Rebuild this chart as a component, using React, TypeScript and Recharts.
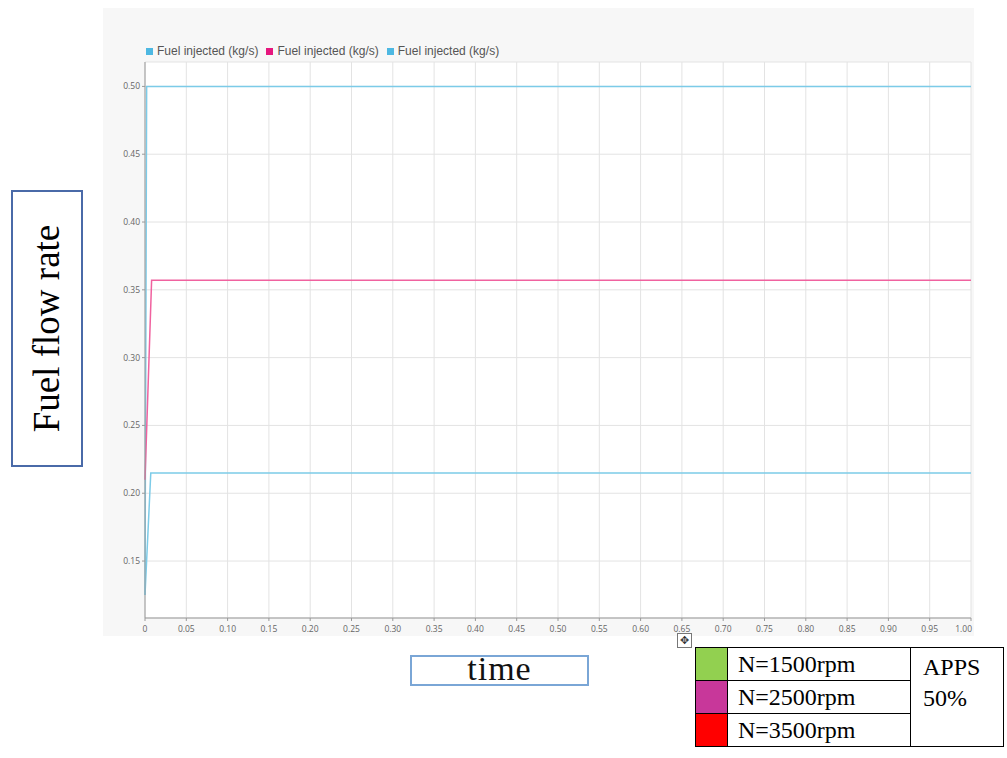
import React from "react";
import { LineChart, Line, XAxis, YAxis, CartesianGrid } from "recharts";

const xTicks = [0, 0.05, 0.1, 0.15, 0.2, 0.25, 0.3, 0.35, 0.4, 0.45, 0.5, 0.55, 0.6, 0.65, 0.7, 0.75, 0.8, 0.85, 0.9, 0.95, 1.0];
const yTicks = [0.15, 0.2, 0.25, 0.3, 0.35, 0.4, 0.45, 0.5];

// fuel injected (kg/s) vs time, one array per series
const fuelTop = [
    { t: 0, v: 0.125 },
    { t: 0.002, v: 0.5 },
    { t: 1, v: 0.5 },
];
const fuelMid = [
    { t: 0, v: 0.21 },
    { t: 0.008, v: 0.357 },
    { t: 1, v: 0.357 },
];
const fuelLow = [
    { t: 0, v: 0.125 },
    { t: 0.007, v: 0.215 },
    { t: 1, v: 0.215 },
];

const seriesNames = ["Fuel injected (kg/s)", "Fuel injected (kg/s)", "Fuel injected (kg/s)"];
const seriesColors = ["#4db8e2", "#e6177e", "#4db8e2"];
const lineColors = ["#7ccbe8", "#f0629f", "#7ccbe8"];

const speeds = ["N=1500rpm", "N=2500rpm", "N=3500rpm"];
const speedColors = ["#92d050", "#c8379a", "#ff0000"];

const fmtX = (v: number) => (v === 0 ? "0" : v.toFixed(2));
const fmtY = (v: number) => v.toFixed(2);

const tickStyle = { fontSize: 8.5, fill: "#666", fontFamily: "Open Sans, sans-serif" };
const serif = "'Liberation Serif', 'Times New Roman', serif";

// last x label sits flush with the plot edge
const XTick = (props: any) => {
    const { x, y, payload } = props;
    const last = payload.value === 1;
    return (
        <text x={last ? x + 1 : x} y={y + 9} textAnchor={last ? "end" : "middle"} {...tickStyle}>
            {fmtX(payload.value)}
        </text>
    );
};

const App = () => {
    return (
        <div style={{ position: "absolute", left: 0, top: 0, width: 1007, height: 758, background: "#fff" }}>
            <div style={{ position: "absolute", left: 103, top: 8, width: 871, height: 628, background: "#f7f7f7" }}>
                <LineChart
                    width={871}
                    height={628}
                    margin={{ top: 54, right: 3, left: 6, bottom: 4 }}
                >
                    <CartesianGrid stroke="#e3e3e3" fill="#fff" />
                    <XAxis
                        dataKey="t"
                        type="number"
                        domain={[0, 1]}
                        ticks={xTicks}
                        tick={<XTick />}
                        tickSize={3}
                        height={14}
                        stroke="#999"
                        allowDuplicatedCategory={false}
                        interval={0}
                    />
                    <XAxis xAxisId="top" orientation="top" type="number" domain={[0, 1]} tick={false} tickLine={false} height={0} stroke="#999" />
                    <YAxis
                        dataKey="v"
                        type="number"
                        domain={[0.108, 0.518]}
                        ticks={yTicks}
                        tickFormatter={fmtY}
                        tick={tickStyle}
                        tickSize={3}
                        width={36}
                        stroke="#999"
                        allowDataOverflow
                        interval={0}
                    />
                    <YAxis yAxisId="right" orientation="right" tick={false} tickLine={false} width={0} stroke="#999" />
                    <Line data={fuelTop} dataKey="v" name={seriesNames[0]} stroke={lineColors[0]} strokeWidth={1.5} dot={false} isAnimationActive={false} />
                    <Line data={fuelMid} dataKey="v" name={seriesNames[1]} stroke={lineColors[1]} strokeWidth={1.5} dot={false} isAnimationActive={false} />
                    <Line data={fuelLow} dataKey="v" name={seriesNames[2]} stroke={lineColors[2]} strokeWidth={1.5} dot={false} isAnimationActive={false} />
                </LineChart>
            </div>

            {/* legend */}
            <div style={{ position: "absolute", left: 146, top: 44, display: "flex", gap: 8, fontFamily: "'Liberation Sans', Arial, sans-serif", fontSize: 12, color: "#555" }}>
                {seriesNames.map((n, i) => (
                    <div key={i} style={{ display: "flex", alignItems: "center", gap: 4 }}>
                        <span style={{ width: 7, height: 7, background: seriesColors[i], display: "inline-block" }} />
                        <span>{n}</span>
                    </div>
                ))}
            </div>

            {/* y axis title box */}
            <div style={{ position: "absolute", left: 11, top: 190, width: 68, height: 273, border: "2px solid #4a6aa8", background: "#fff", display: "flex", alignItems: "center", justifyContent: "center" }}>
                <div style={{ transform: "rotate(-90deg)", whiteSpace: "nowrap", fontFamily: serif, fontSize: 37, color: "#000" }}>Fuel flow rate</div>
            </div>

            {/* x axis title box */}
            <div style={{ position: "absolute", left: 410, top: 655, width: 175, height: 27, border: "2px solid #7aa6d6", background: "#fff" }}>
                <div style={{ position: "absolute", left: 0, right: 0, top: -5, textAlign: "center", fontFamily: serif, fontSize: 34, color: "#111", lineHeight: "34px", letterSpacing: 1 }}>time</div>
            </div>

            {/* move handle */}
            <div style={{ position: "absolute", left: 677, top: 633, width: 13, height: 13, border: "1px solid #777", background: "#fff", fontSize: 11, lineHeight: "13px", textAlign: "center", color: "#333" }}>✥</div>

            {/* speed table */}
            <table style={{ position: "absolute", left: 695, top: 647, borderCollapse: "collapse", fontFamily: serif, fontSize: 24, color: "#000" }}>
                <tbody>
                    {speeds.map((s, i) => (
                        <tr key={s} style={{ height: 33 }}>
                            <td style={{ width: 31, padding: 0, background: speedColors[i], border: "1px solid #000" }} />
                            <td style={{ width: 172, padding: "0 0 0 10px", border: "1px solid #000", lineHeight: "31px" }}>{s}</td>
                            {i === 0 && (
                                <td rowSpan={3} style={{ width: 80, padding: "4px 0 0 12px", verticalAlign: "top", border: "1px solid #000", lineHeight: "31px" }}>
                                    APPS<br />50%
                                </td>
                            )}
                        </tr>
                    ))}
                </tbody>
            </table>
        </div>
    );
};

export default App;
